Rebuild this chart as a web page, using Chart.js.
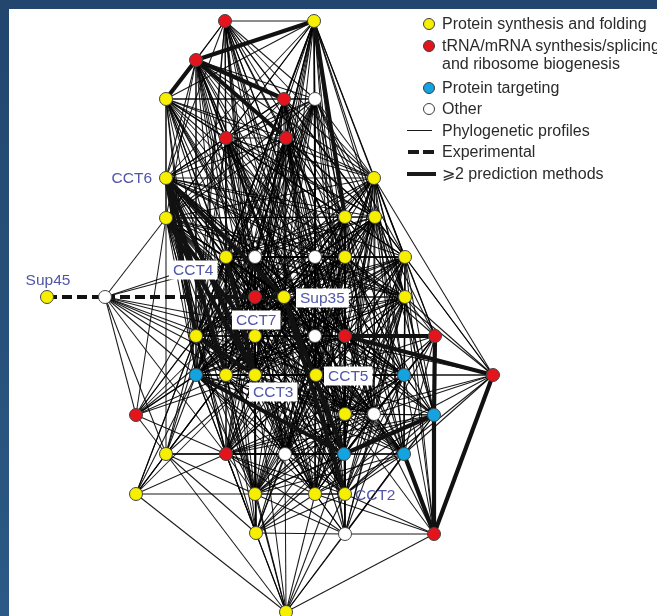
<!DOCTYPE html>
<html>
<head>
<meta charset="utf-8">
<script src="https://cdn.jsdelivr.net/npm/chart.js@4/dist/chart.umd.min.js"></script>
<style>
  html, body { margin: 0; padding: 0; width: 657px; height: 616px; overflow: hidden;
    background: linear-gradient(#22466d, #2b5a86); }
  #panel { position: absolute; left: 9px; top: 9px; width: 648px; height: 607px; background: #fff; }
  #net { position: absolute; left: 0; top: 0; }
  .lg { position: absolute; font-family: "Liberation Sans", Arial, Helvetica, sans-serif; font-size: 16px;
    color: #2b2b2b; white-space: nowrap; line-height: 18px; }
  .dot { position: absolute; width: 12px; height: 12px; border-radius: 50%; box-sizing: border-box;
    border: 1px solid #3c3c3c; }
  .bar { position: absolute; background: #1a1a1a; }
</style>
</head>
<body>
<div id="panel"><canvas id="net" width="648" height="607"></canvas></div>
<div id="legend"></div>
<script>
// ---- network data -------------------------------------------------------
// node coordinates (layout units) and functional class
const nodeX = [225,314,196,166,284,315,226,286,166,374,166,345,375,226,255,315,345,405,47,105,
               255,284,405,196,255,315,345,435,196,226,255,316,404,493,136,345,374,434,166,226,
               285,344,404,136,255,315,345,256,345,434,286];
const nodeY = [21,21,60,99,99,99,138,138,178,178,218,217,217,257,257,257,257,257,297,297,
               297,297,297,336,336,336,336,336,375,375,375,375,375,375,415,414,414,415,454,454,
               454,454,454,494,494,494,494,533,534,534,612];
const nodeKind = ["R","Y","R","Y","R","W","R","R","Y","Y","Y","Y","Y","Y","W","W","Y","Y","Y","W",
                  "R","Y","Y","Y","Y","W","R","R","B","Y","Y","Y","B","R","R","Y","W","B","Y","R",
                  "W","B","B","Y","Y","Y","Y","Y","W","R","Y"];
// named proteins
const nodeNames = { 8: "CCT6", 18: "Sup45", 13: "CCT4", 21: "Sup35", 24: "CCT7", 30: "CCT3", 31: "CCT5", 46: "CCT2" };

// links found by phylogenetic profiles (neighbour lists)
const phyloLinks = {
  0: [1,2,3,4,5,6,7,8,9,11,12,13,14,15,16,20,21,23,24,25,26,28,30,31,35],
  1: [3,4,5,6,7,8,9,10,12,13,14,15,16,17,20,21,22,24,25,26,23,28,29,30,31,35,36],
  2: [0,5,6,8,9,10,11,12,13,14,15,16,20,21,23,24,25,30,26,28,29,31,35],
  3: [4,5,6,7,8,9,10,11,12,13,14,15,16,20,21,23,24,28,25,26,29,30,31],
  4: [5,6,7,8,9,10,11,12,13,14,15,16,17,21,23,24,25,29,30,26,28,31,35,36],
  5: [6,7,8,9,10,11,12,13,14,15,16,17,20,21,22,24,26,23,25,28,29,30,31,35],
  6: [7,8,9,10,11,12,13,14,15,16,17,20,21,23,24,25,28,30,26,29,31,35,36,40],
  7: [8,9,10,11,12,13,14,15,16,20,21,22,23,24,25,26,28,29,30,31,32,35,36,40,41],
  8: [9,10,11,12,13,14,15,16,17,20,22,25,26,28,31,35,40,41,46,39,36,42,44,45,32],
  9: [10,11,12,13,14,15,16,17,20,21,22,24,25,26,27,31,32,33,23,28,29,30,35,36,37,40,41,42],
  10: [11,12,13,14,15,16,20,21,23,25,26,28,31,34,35,38,39,40,41,22,29,32,36,42,44,45],
  11: [12,13,14,15,16,17,20,21,22,23,24,25,26,28,29,30,31,32,35,36,41,42,39,40,44,45,46],
  12: [13,14,15,16,17,20,21,22,23,24,25,26,27,29,31,32,33,35,36,37,28,30,39,40,41,42,44,45],
  13: [14,15,16,17,20,21,22,23,24,25,26,28,29,31,32,35,36,38,39,40,41,44,45,42,46,47],
  14: [15,16,17,20,21,22,23,24,25,26,28,29,30,31,32,35,36,39,40,41,42,44,45,46,47,48],
  15: [16,17,20,21,22,23,24,25,26,28,29,30,31,32,35,36,37,39,40,41,42,44,45,46],
  16: [17,20,21,22,23,24,25,26,27,28,29,30,31,32,35,36,37,40,41,42,45,46],
  17: [20,21,22,24,25,26,27,31,32,33,35,36,37,41,42,46,49,23,28,29,30,40,44,45],
  19: [10,13,14,23,24,25,28,29,30,31,34,38,39],
  20: [21,22,23,24,25,26,28,29,30,31,32,35,36,39,40,41,42,44,45,46],
  21: [22,23,24,25,26,28,29,30,31,32,35,36,37,39,40,42,44,45],
  22: [23,24,25,26,27,28,29,31,32,33,35,36,37,40,41,42,45,46,49,39,44,48],
  23: [24,25,26,28,29,31,34,35,36,38,39,40,41,43,44,45,47],
  24: [25,26,28,29,31,32,35,36,38,39,40,41,42,44,45,46,47],
  25: [26,28,29,30,31,32,35,36,37,39,40,41,42,44,45,46,47,48],
  26: [28,29,30,31,32,35,36,37,39,40,41,42,44,45,46,48],
  27: [25,31,32,35,36,41,42,45,46,16,17,22,12],
  28: [29,30,31,32,34,35,36,38,39,40,42,43,44,45,46,47],
  29: [30,31,32,35,36,38,39,40,41,43,44,45,46,47,50],
  30: [31,32,35,36,39,40,42,44,45,46,47,50,38],
  31: [32,35,36,37,39,40,41,42,44,45,46,47,48],
  32: [33,35,36,37,39,40,41,42,44,45,46,48,49],
  33: [12,16,17,22,25,31,32,35,36,41,42,46,9],
  34: [13,14,21,23,24,28,29,38,39,30,20],
  35: [36,37,39,40,41,42,44,45,46,47,48,49],
  36: [37,39,40,41,42,44,45,46,47,48,49],
  37: [39,40,42,44,45,46,48,22,17],
  38: [39,40,41,43,44,47,50,29,28,24],
  39: [40,41,42,43,44,45,46,47,48,50],
  40: [41,42,44,45,46,47,48,50],
  41: [42,44,45,47,48,50],
  42: [44,45,46,48,49,50],
  43: [13,24,29,30,44,50,39],
  44: [45,46,47,48,50],
  45: [46,47,48,49,50],
  46: [47,48,49,50],
  47: [48,50],
  48: [49,50],
  49: [50]
};
// links supported by two or more prediction methods
const strongLinks = [[1,2],[2,3],[2,4],[2,7],[1,11],[8,21],[8,23],[8,29],[8,30],[10,30],[10,24],
                     [13,30],[23,30],[21,41],[21,46],[28,41],[37,41],[26,27],[26,33],[27,37],
                     [37,49],[33,49],[42,49]];
// experimentally observed links
const expLinks = [[18,19],[19,21]];

// ---- styling ----------------------------------------------------------------
const kindColor = { Y: "#f6f000", R: "#e4141d", B: "#12a3e0", W: "#ffffff" };
const labelStyle = {
  CCT6:  { dx: -14, dy: 0,   align: "right",  box: false },
  Sup45: { dx: 1,   dy: -17, align: "center", box: false },
  CCT4:  { dx: -53, dy: 13,  align: "left",   box: true },
  Sup35: { dx: 16,  dy: 1,   align: "left",   box: true },
  CCT7:  { dx: -19, dy: -16, align: "left",   box: true },
  CCT3:  { dx: -2,  dy: 17,  align: "left",   box: true },
  CCT5:  { dx: 12,  dy: 1,   align: "left",   box: true },
  CCT2:  { dx: 10,  dy: 1,   align: "left",   box: false }
};

// ---- build datasets ---------------------------------------------------------
const pt = i => ({ x: nodeX[i], y: nodeY[i] });
const key = (a, b) => a < b ? a + "-" + b : b + "-" + a;
const special = new Set([...strongLinks, ...expLinks].map(([a, b]) => key(a, b)));
const seen = new Set();
const datasets = [];

Object.entries(phyloLinks).forEach(([src, list]) => {
  const a = +src;
  list.forEach(b => {
    const k = key(a, b);
    if (a === b || seen.has(k) || special.has(k)) return;
    seen.add(k);
    datasets.push({ data: [pt(a), pt(b)], showLine: true, pointRadius: 0,
      borderColor: "rgba(0,0,0,0.9)", borderWidth: 1.05, order: 3 });
  });
});
strongLinks.forEach(([a, b]) => datasets.push({ data: [pt(a), pt(b)], showLine: true, pointRadius: 0,
  borderColor: "#111", borderWidth: 4.2, order: 2 }));
expLinks.forEach(([a, b]) => datasets.push({ data: [pt(a), pt(b)], showLine: true, pointRadius: 0,
  borderColor: "#111", borderWidth: 4, borderDash: [10, 5], order: 1 }));

["Y", "R", "B", "W"].forEach(kind => {
  const idx = nodeKind.map((k, i) => k === kind ? i : -1).filter(i => i >= 0);
  datasets.push({ data: idx.map(pt), showLine: false, pointRadius: 6.5, pointHoverRadius: 6.5,
    pointBackgroundColor: kindColor[kind], pointBorderColor: "#444", pointBorderWidth: 1, order: 0 });
});

// protein name labels, placed from the node position through the scales
const nameLabels = {
  id: "nameLabels",
  afterDatasetsDraw(chart) {
    const { ctx, scales: { x, y } } = chart;
    ctx.save();
    ctx.font = '15.5px "Liberation Sans", Arial, sans-serif';
    ctx.textBaseline = "middle";
    Object.entries(nodeNames).forEach(([i, name]) => {
      const s = labelStyle[name];
      const px = x.getPixelForValue(nodeX[i]) + s.dx;
      const py = y.getPixelForValue(nodeY[i]) + s.dy;
      const w = ctx.measureText(name).width;
      const left = s.align === "left" ? px : s.align === "right" ? px - w : px - w / 2;
      if (s.box) {
        ctx.fillStyle = "#fff";
        ctx.fillRect(left - 4, py - 9.5, w + 8, 19);
      }
      ctx.fillStyle = "#5056a8";
      ctx.textAlign = "left";
      ctx.fillText(name, left, py + 1);
    });
    ctx.restore();
  }
};

new Chart(document.getElementById("net"), {
  type: "scatter",
  data: { datasets },
  options: {
    responsive: false,
    animation: false,
    events: [],
    layout: { padding: 0, autoPadding: false },
    plugins: { legend: { display: false }, tooltip: { enabled: false } },
    scales: {
      x: { type: "linear", min: 9, max: 657, display: false },
      y: { type: "linear", min: 9, max: 616, reverse: true, display: false }
    },
    elements: { line: { tension: 0 } }
  },
  plugins: [nameLabels]
});

// ---- legend -----------------------------------------------------------------
const legendRows = [
  { text: "Protein synthesis and folding", y: 24, dot: "Y" },
  { text: "tRNA/mRNA synthesis/splicing", y: 45.5, dot: "R" },
  { text: "and ribosome biogenesis", y: 63.5 },
  { text: "Protein targeting", y: 87.5, dot: "B" },
  { text: "Other", y: 109, dot: "W" },
  { text: "Phylogenetic profiles", y: 130.5, line: "thin" },
  { text: "Experimental", y: 152, line: "dash" },
  { text: "\u2A7E2 prediction methods", y: 173.5, line: "thick" }
];
const lg = document.getElementById("legend");
legendRows.forEach(r => {
  const t = document.createElement("div");
  t.className = "lg";
  t.style.left = "442px";
  t.style.top = (r.y - 9) + "px";
  t.textContent = r.text;
  lg.appendChild(t);
  if (r.dot) {
    const d = document.createElement("div");
    d.className = "dot";
    d.style.left = "422.5px";
    d.style.top = (r.y - 6) + "px";
    d.style.background = kindColor[r.dot];
    lg.appendChild(d);
  }
  const addBar = (x, w, h) => {
    const b = document.createElement("div");
    b.className = "bar";
    b.style.left = x + "px"; b.style.width = w + "px";
    b.style.top = (r.y - h / 2) + "px"; b.style.height = h + "px";
    lg.appendChild(b);
  };
  if (r.line === "thin") addBar(407, 25, 1);
  if (r.line === "dash") { addBar(408, 11, 4); addBar(423, 11, 4); }
  if (r.line === "thick") addBar(407, 29, 4);
});
</script>
</body>
</html>
